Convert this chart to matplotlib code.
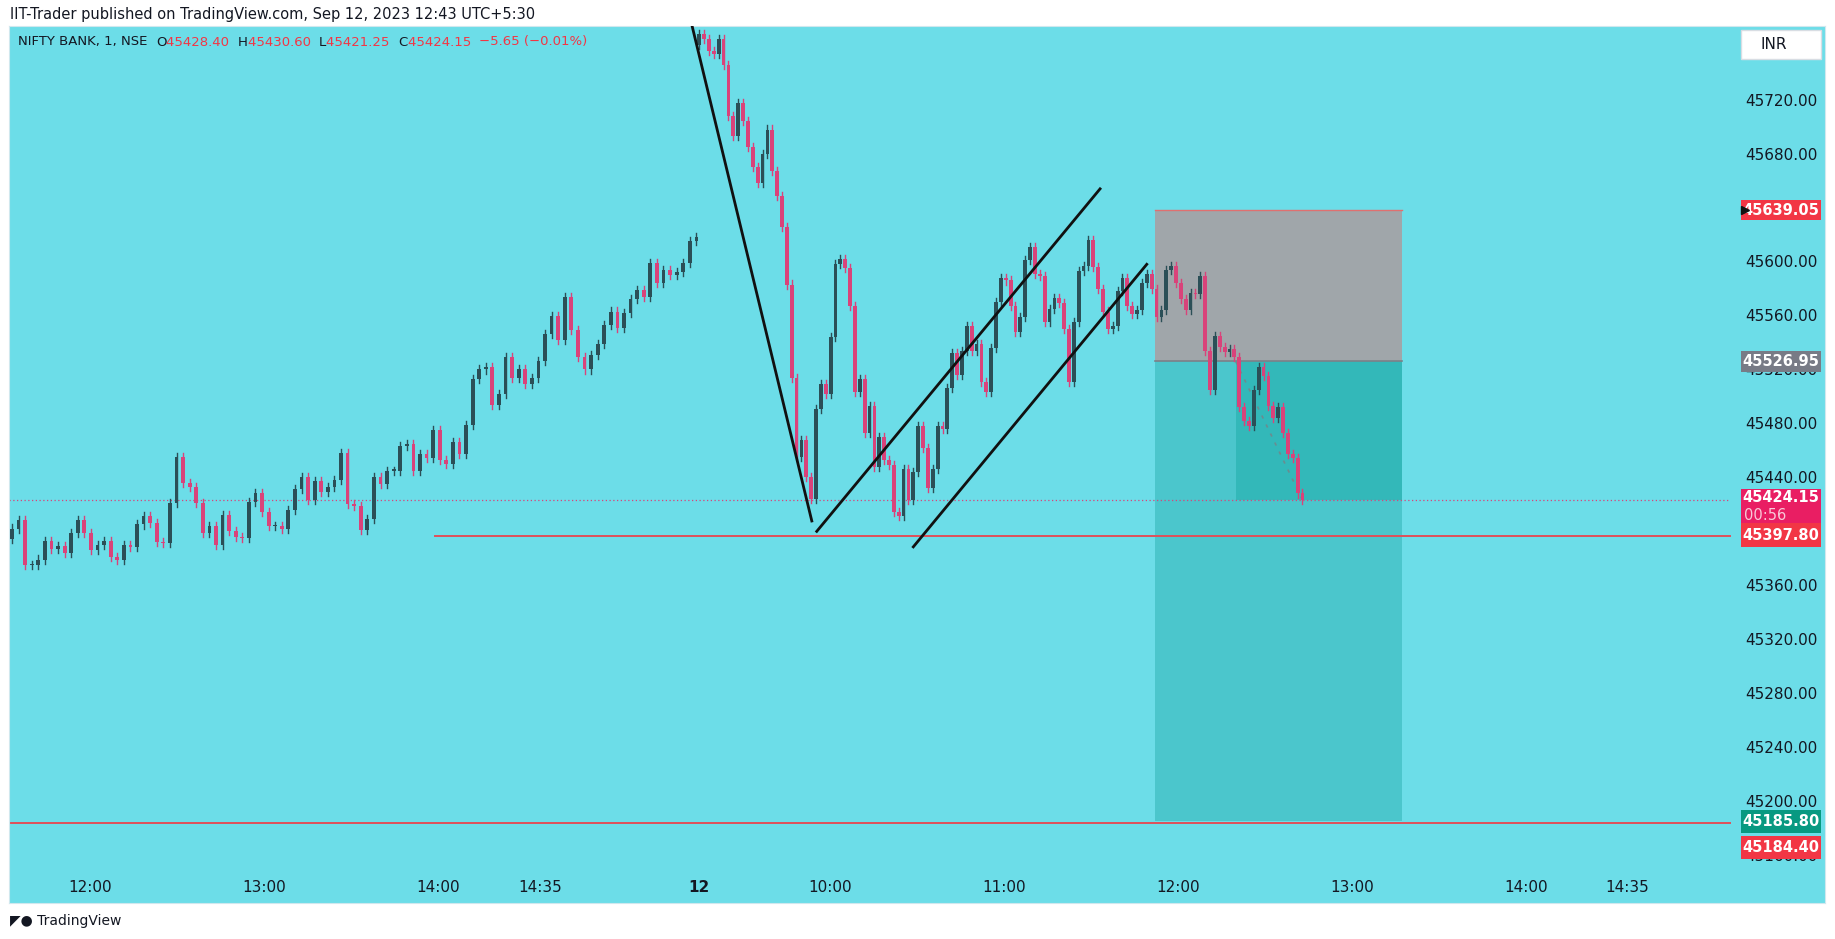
import numpy as np
import matplotlib.pyplot as plt
from matplotlib.patches import Rectangle
import matplotlib.transforms as mtransforms

# closes (day 1: 11:33-15:29, day 2: 09:15-12:43)
day1_close = [45403, 45409, 45376, 45376, 45380, 45394, 45388, 45390, 45385, 45400,
              45409, 45400, 45387, 45391, 45394, 45382, 45380, 45391, 45389, 45406,
              45412, 45407, 45393, 45392, 45422, 45456, 45437, 45434, 45422, 45400,
              45405, 45391, 45413, 45401, 45397, 45396, 45423, 45429, 45415, 45405,
              45405, 45403, 45417, 45432, 45441, 45424, 45438, 45430, 45434, 45439,
              45459, 45421, 45420, 45402, 45410, 45441, 45436, 45446, 45446, 45464,
              45466, 45446, 45458, 45455, 45476, 45454, 45451, 45467, 45458, 45480,
              45514, 45521, 45523, 45495, 45503, 45530, 45515, 45521, 45510, 45515,
              45527, 45547, 45561, 45543, 45575, 45550, 45530, 45521, 45532, 45540,
              45554, 45564, 45552, 45563, 45573, 45580, 45575, 45600, 45585, 45595,
              45591, 45593, 45600, 45616, 45619]
day2_open = 45762
day2_close = [45770, 45766, 45757, 45755, 45766, 45747, 45709, 45694, 45719, 45705,
              45686, 45671, 45659, 45681, 45699, 45668, 45650, 45627, 45584, 45515,
              45456, 45469, 45441, 45425, 45492, 45510, 45503, 45545, 45599, 45603,
              45596, 45568, 45504, 45514, 45474, 45494, 45449, 45471, 45454, 45450,
              45415, 45412, 45447, 45424, 45445, 45479, 45463, 45433, 45447, 45479,
              45477, 45507, 45533, 45517, 45535, 45553, 45535, 45540, 45512, 45504,
              45537, 45571, 45589, 45587, 45568, 45549, 45560, 45602, 45612, 45592,
              45590, 45556, 45566, 45574, 45570, 45551, 45512, 45556, 45594, 45598,
              45617, 45597, 45581, 45564, 45551, 45553, 45579, 45589, 45568, 45562,
              45565, 45585, 45592, 45581, 45560, 45565, 45595, 45598, 45585, 45573,
              45565, 45578, 45577, 45590, 45535, 45506, 45546, 45538, 45534, 45536,
              45530, 45493, 45483, 45479, 45506, 45523, 45516, 45494, 45485, 45493,
              45474, 45458, 45455, 45429, 45424]

tick_pos = [27, 87, 147, 182, 237, 282, 342, 402, 462, 522, 557]
tick_lab = ['12:00', '13:00', '14:00', '14:35', '12', '10:00', '11:00', '12:00', '13:00', '14:00', '14:35']
price_ticks = [45160, 45200, 45240, 45280, 45320, 45360, 45440, 45480, 45520, 45560, 45600, 45680, 45720]

stop_price = 45639.05
entry_price = 45526.95
last_price = 45424.15
support = 45397.80
target = 45185.80
low_line = 45184.40

BG = '#6cdde8'
UP = '#2b4f57'
DOWN = '#d9437a'

x1 = np.linspace(0, 236, len(day1_close))
x2 = np.linspace(237, 445, len(day2_close))
xs = np.concatenate([x1, x2])
closes = np.array(day1_close + day2_close, dtype=float)
opens = np.concatenate([[day1_close[0] - 8], closes[:-1]])
opens[len(day1_close)] = day2_open
highs = np.maximum(opens, closes) + 3
lows = np.minimum(opens, closes) - 3

fig = plt.figure(figsize=(18.35, 9.39), dpi=100)
fig.patch.set_facecolor('white')
ax = fig.add_axes([9 / 1835, 36 / 939, 1816 / 1835, 877 / 939])
ax.set_facecolor(BG)
xmin = -1.03
xmax = xmin + 1816 / 2.9
ax.set_xlim(xmin, xmax)
ax.set_ylim(45125.2, 45775.8)
for s in ax.spines.values():
    s.set_color('#d0e8ee')
ax.set_yticks([])
ax.set_xticks([])

right_end = xmin + (1730 - 9) / 2.9

# position tool boxes
bx0, bx1 = 394.1, 479.3
ax.add_patch(Rectangle((bx0, entry_price), bx1 - bx0, stop_price - entry_price,
                       facecolor='#a0a6aa', edgecolor='none', zorder=1))
ax.add_patch(Rectangle((bx0, target), bx1 - bx0, entry_price - target,
                       facecolor='#4bc6cc', edgecolor='none', zorder=1))
ax.add_patch(Rectangle((422, last_price), bx1 - 422, entry_price - last_price,
                       facecolor='#33b8b9', edgecolor='none', zorder=1))
ax.plot([bx0, bx1], [stop_price, stop_price], color='#e07070', lw=1, zorder=2)
ax.plot([bx0, bx1], [entry_price, entry_price], color='#7c8088', lw=1.2, zorder=2)
ax.plot([422, 445], [entry_price, last_price], color='#6a8c90', lw=1.2, ls=(0, (2, 4)), zorder=2)

# horizontal lines
ax.plot([xmin, right_end], [last_price, last_price], color='#d9437a', lw=0.9, ls=(0, (1, 2)), zorder=2)
ax.plot([146, right_end], [support, support], color='#e0505a', lw=1.4, zorder=2)
ax.plot([xmin, right_end], [low_line, low_line], color='#e0505a', lw=1.4, zorder=2)

# candles
w = 1.3
for x, o, h, l, c in zip(xs, opens, highs, lows, closes):
    col = UP if c >= o else DOWN
    ax.plot([x, x], [l, h], color=col, lw=1, zorder=3)
    ax.add_patch(Rectangle((x - w / 2, min(o, c)), w, max(abs(c - o), 0.8),
                           facecolor=col, edgecolor='none', zorder=3))

# drawn trend lines
ax.plot([234.5, 275.8], [45776, 45408.6], color='#111111', lw=2, zorder=4)
ax.plot([277.5, 375.2], [45400.9, 45655], color='#111111', lw=2, zorder=4)
ax.plot([310.8, 391.3], [45389.4, 45599], color='#111111', lw=2, zorder=4)

# price axis
tr = mtransforms.blended_transform_factory(ax.transAxes, ax.transData)
lx = (1781 - 9) / 1816
for p in price_ticks:
    ax.text(lx, p, f'{p:.2f}', transform=tr, ha='center', va='center', fontsize=11, color='#131722', zorder=5)

bw = 80 / 1816
def tag(yc, col, txt, h=15):
    ax.add_patch(Rectangle((lx - bw / 2, yc - h / 2), bw, h,
                           transform=tr, facecolor=col, edgecolor='none', zorder=6))
    ax.text(lx, yc, txt, transform=tr, ha='center', va='center', fontsize=10.5,
            color='white', fontweight='bold', zorder=7)

tag(stop_price, '#f23645', f'{stop_price:.2f}')
tag(entry_price, '#787b86', f'{entry_price:.2f}')
ax.add_patch(Rectangle((lx - bw / 2, 45407), bw, 25.5, transform=tr,
                       facecolor='#e91e63', edgecolor='none', zorder=6))
ax.text(lx, last_price + 1.5, f'{last_price:.2f}', transform=tr, ha='center', va='center',
        fontsize=10.5, color='white', fontweight='bold', zorder=7)
ax.text(lx - 0.009, 45413, '00:56', transform=tr, ha='center', va='center',
        fontsize=10.5, color='#f8c8d8', zorder=7)
tag(45398, '#f23645', f'{support:.2f}', h=18)
tag(45185.5, '#089981', f'{target:.2f}', h=17)
tag(45166.5, '#f23645', f'{low_line:.2f}', h=17)
ax.plot([lx - bw / 2 + 0.002], [stop_price], marker='>', color='#111111', ms=6,
        transform=tr, zorder=8)

ax.add_patch(Rectangle(((1741 - 9) / 1816, 45751), 80 / 1816, 22, transform=tr,
                       facecolor='white', edgecolor='#d8dde3', lw=1, zorder=6))
ax.text((1760 - 9) / 1816, 45762, 'INR', transform=tr, ha='left', va='center',
        fontsize=11, color='#131722', zorder=7)

# time axis
for t, lab in zip(tick_pos, tick_lab):
    ax.text(t, 45137, lab, ha='center', va='center', fontsize=11, color='#131722',
            fontweight='bold' if lab == '12' else 'normal')

# header texts
fig.text(10 / 1835, 1 - 15 / 939, 'IIT-Trader published on TradingView.com, Sep 12, 2023 12:43 UTC+5:30',
         ha='left', va='center', fontsize=10.5, color='#131722')
hdr = [('NIFTY BANK, 1, NSE  ', '#131722'), ('O', '#131722'), ('45428.40  ', '#f23645'),
       ('H', '#131722'), ('45430.60  ', '#f23645'), ('L', '#131722'), ('45421.25  ', '#f23645'),
       ('C', '#131722'), ('45424.15  ', '#f23645'), ('\u22125.65 (\u22120.01%)', '#f23645')]
xpos = 18
fig.canvas.draw()
rend = fig.canvas.get_renderer()
for s, col in hdr:
    txt = fig.text(xpos / 1835, 1 - 42 / 939, s, ha='left', va='center', fontsize=9.5, color=col)
    xpos += txt.get_window_extent(renderer=rend).width
fig.text(10 / 1835, 1 - 921 / 939, '\u25e4\u25cf TradingView', ha='left', va='center',
         fontsize=10, color='#131722')

fig.savefig('out.png', dpi=100, facecolor='white')
